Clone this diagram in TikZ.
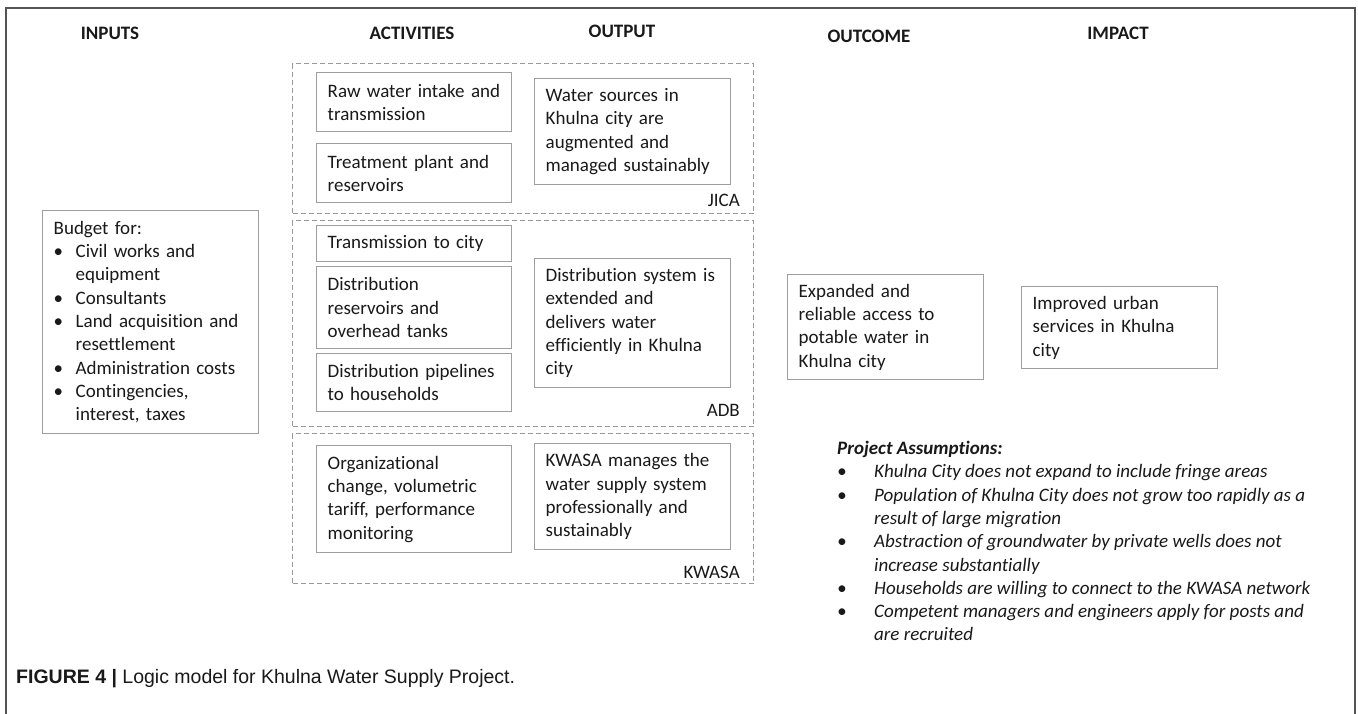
\documentclass[tikz,border=0pt]{standalone}
\usepackage{fontspec}
\setmainfont{Carlito}[Ligatures=NoCommon]
\newfontfamily\capfont{Liberation Sans}
\usepackage{tikz}
\definecolor{framegray}{rgb}{.33,.33,.33}
\definecolor{boxgray}{rgb}{.62,.62,.62}
\definecolor{dashgray}{rgb}{.6,.6,.6}
\definecolor{textblack}{rgb}{.1,.1,.1}
\newcommand{\bul}[1]{\makebox[#1][l]{\textbullet}}

\begin{document}
\begin{tikzpicture}[x=1pt,y=-1pt,
    txt/.style={font=\fontsize{19}{23.3}\selectfont, text=textblack},
    head/.style={txt, font=\fontsize{19}{23.3}\selectfont\bfseries},
    box/.style={txt, draw=boxgray, line width=1.4pt, anchor=north west, inner xsep=11pt, inner ysep=2pt, align=left},
    grp/.style={draw=dashgray, line width=1.2pt, dash pattern=on 5pt off 3pt, anchor=north west, inner sep=0pt},
    grplab/.style={txt, anchor=east, inner sep=0pt}]
  \useasboundingbox (0,0) rectangle (1358,714);
  \draw[framegray, line width=2pt] (6,714) -- (6,8) -- (1355,8) -- (1355,714);

  \node[head] (inputs) at (110,33) {INPUTS};
  \node[head] (activities) at (412,33) {ACTIVITIES};
  \node[head] (output) at (622,31) {OUTPUT};
  \node[head] (outcome) at (869,36) {OUTCOME};
  \node[head] (impact) at (1118,33) {IMPACT};

  \node[box, text width=194pt, minimum height=223pt] (budget) at (42,210) {Budget for:\\
    \bul{22pt}Civil works and\\ \hspace*{22pt}equipment\\
    \bul{22pt}Consultants\\
    \bul{22pt}Land acquisition and\\ \hspace*{22pt}resettlement\\
    \bul{22pt}Administration costs\\
    \bul{22pt}Contingencies,\\ \hspace*{22pt}interest, taxes};

  \node[grp, minimum width=461, minimum height=150] (jica) at (292,63) {};
  \node[grp, minimum width=461, minimum height=206] (adb) at (292,220) {};
  \node[grp, minimum width=461, minimum height=150] (kwasa) at (292,433) {};
  \node[grplab] (jicalab) at (740,200) {JICA};
  \node[grplab] (adblab) at (740,410) {ADB};
  \node[grplab] (kwasalab) at (740,572) {KWASA};

  \node[box, text width=173pt, minimum height=59] (raw) at (316,72) {Raw water intake and\\transmission};
  \node[box, text width=173pt, minimum height=59] (treat) at (316,143) {Treatment plant and\\reservoirs};
  \node[box, text width=174pt, minimum height=106] (wsrc) at (534,78) {Water sources in\\Khulna city are\\augmented and\\managed sustainably};

  \node[box, text width=173pt, minimum height=36] (trans) at (316,225) {Transmission to city};
  \node[box, text width=173pt, minimum height=82] (dres) at (316,266) {Distribution\\reservoirs and\\overhead tanks};
  \node[box, text width=173pt, minimum height=58] (dpipe) at (316,353) {Distribution pipelines\\to households};
  \node[box, text width=174pt, minimum height=129] (dsys) at (534,258) {Distribution system is\\extended and\\delivers water\\efficiently in Khulna\\city};

  \node[box, text width=173pt, minimum height=107] (org) at (316,445) {Organizational\\change, volumetric\\tariff, performance\\monitoring};
  \node[box, text width=174pt, minimum height=106] (kman) at (534,443) {KWASA manages the\\water supply system\\professionally and\\sustainably};

  \node[box, text width=174pt, minimum height=105] (access) at (787,274) {Expanded and\\reliable access to\\potable water in\\Khulna city};
  \node[box, text width=174pt, minimum height=82] (urban) at (1021,286) {Improved urban\\services in Khulna\\city};

  \node[txt, font=\fontsize{19}{23.3}\selectfont\itshape, anchor=north west, align=left, inner sep=0pt] (assume) at (837,441) {\textbf{Project Assumptions:}\\
    \bul{37pt}Khulna City does not expand to include fringe areas\\
    \bul{37pt}Population of Khulna City does not grow too rapidly as a\\ \hspace*{37pt}result of large migration\\
    \bul{37pt}Abstraction of groundwater by private wells does not\\ \hspace*{37pt}increase substantially\\
    \bul{37pt}Households are willing to connect to the KWASA network\\
    \bul{37pt}Competent managers and engineers apply for posts and\\ \hspace*{37pt}are recruited};

  \node[anchor=west, inner sep=0pt, font=\capfont\fontsize{19.5}{23}\selectfont, text=textblack] (caption) at (16,679) {\textbf{FIGURE 4 |} Logic model for Khulna Water Supply Project.};
\end{tikzpicture}
\end{document}
